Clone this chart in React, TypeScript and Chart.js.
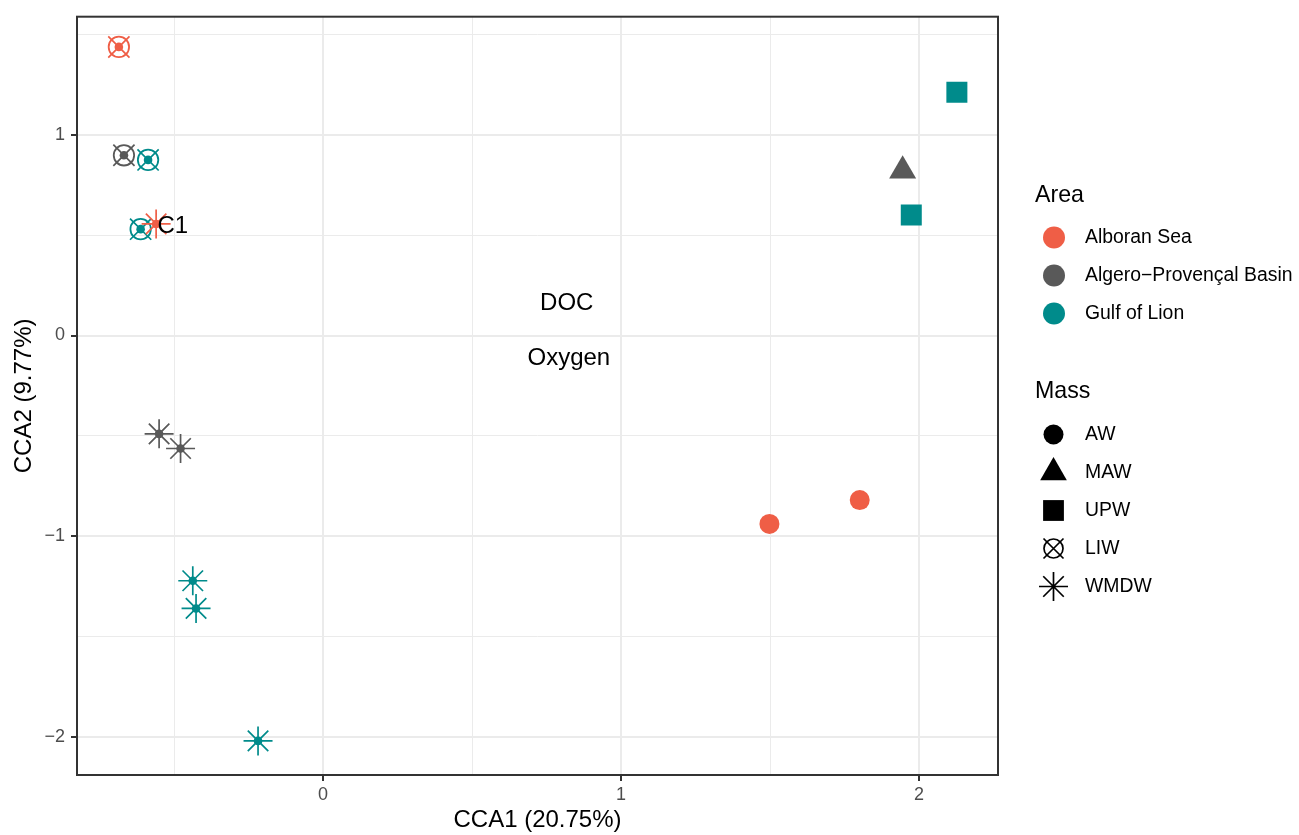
import React, { useEffect, useRef } from 'react';
import { Chart, registerables } from 'chart.js';

Chart.register(...registerables);

// ---------- data ----------
const AREA_NAMES = ['Alboran Sea', 'Algero\u2212Provençal Basin', 'Gulf of Lion'];
const AREA_COLORS = ['#EF5E46', '#595959', '#008B8B'];
const MASS_NAMES = ['AW', 'MAW', 'UPW', 'LIW', 'WMDW'];

const sampleArea = [
  'Alboran Sea', 'Algero\u2212Provençal Basin', 'Gulf of Lion', 'Gulf of Lion',
  'Alboran Sea', 'Algero\u2212Provençal Basin', 'Algero\u2212Provençal Basin',
  'Gulf of Lion', 'Gulf of Lion', 'Gulf of Lion',
  'Alboran Sea', 'Alboran Sea', 'Algero\u2212Provençal Basin', 'Gulf of Lion', 'Gulf of Lion',
];
const sampleMass = [
  'LIW', 'LIW', 'LIW', 'LIW',
  'WMDW', 'WMDW', 'WMDW', 'WMDW', 'WMDW', 'WMDW',
  'AW', 'AW', 'MAW', 'UPW', 'UPW',
];
const sampleCCA1 = [-0.685, -0.668, -0.587, -0.612, -0.56, -0.55, -0.478, -0.437, -0.426, -0.218, 1.498, 1.801, 1.945, 1.974, 2.127];
const sampleCCA2 = [1.438, 0.898, 0.875, 0.53, 0.556, -0.49, -0.563, -1.222, -1.36, -2.02, -0.939, -0.82, 0.821, 0.6, 1.212];

const envLabels = ['C1', 'DOC', 'Oxygen'];
const envCCA1 = [-0.504, 0.818, 0.825];
const envCCA2 = [0.545, 0.159, -0.116];

const xTickValues = [0, 1, 2];
const yTickValues = [-2, -1, 0, 1];
const xRange = [-0.8255, 2.265];
const yRange = [-2.19, 1.5886];

const FONT = '"Liberation Sans", Arial, Helvetica, sans-serif';

const fmt = (v: number) => (v < 0 ? '\u2212' + Math.abs(v) : String(v));
const isMajor = (v: number) => Math.abs(v - Math.round(v)) < 1e-9;

function colorOf(i: number) {
  return AREA_COLORS[AREA_NAMES.indexOf(sampleArea[i])];
}
function idxOf(pred: (m: string) => boolean) {
  return sampleMass.map((m, i) => (pred(m) ? i : -1)).filter((i) => i >= 0);
}
function pts(ix: number[]) {
  return ix.map((i) => ({ x: sampleCCA1[i], y: sampleCCA2[i] }));
}

function buildDatasets() {
  const dots = idxOf((m) => m === 'LIW' || m === 'WMDW');
  const liw = idxOf((m) => m === 'LIW');
  const wmdw = idxOf((m) => m === 'WMDW');
  const aw = idxOf((m) => m === 'AW');
  const maw = idxOf((m) => m === 'MAW');
  const upw = idxOf((m) => m === 'UPW');
  const base = { showLine: false, pointHoverRadius: 0 };
  return [
    { ...base, label: 'dot', data: pts(dots), pointStyle: 'circle', pointRadius: 4.3,
      pointBackgroundColor: dots.map(colorOf), pointBorderWidth: 0 },
    { ...base, label: 'WMDW', data: pts(wmdw), pointStyle: 'star', pointRadius: 14.5,
      pointBackgroundColor: 'transparent', pointBorderColor: wmdw.map(colorOf), pointBorderWidth: 1.7 },
    { ...base, label: 'LIW ring', data: pts(liw), pointStyle: 'circle', pointRadius: 10.2,
      pointBackgroundColor: 'transparent', pointBorderColor: liw.map(colorOf), pointBorderWidth: 1.8 },
    { ...base, label: 'LIW', data: pts(liw), pointStyle: 'crossRot', pointRadius: 15,
      pointBackgroundColor: 'transparent', pointBorderColor: liw.map(colorOf), pointBorderWidth: 1.7 },
    { ...base, label: 'AW', data: pts(aw), pointStyle: 'circle', pointRadius: 10,
      pointBackgroundColor: aw.map(colorOf), pointBorderWidth: 0 },
    { ...base, label: 'MAW', data: pts(maw), pointStyle: 'triangle', pointRadius: 15.6,
      pointBackgroundColor: maw.map(colorOf), pointBorderWidth: 0 },
    { ...base, label: 'UPW', data: pts(upw), pointStyle: 'rect', pointRadius: 14.85,
      pointBackgroundColor: upw.map(colorOf), pointBorderWidth: 0 },
  ];
}

// ---------- legend marker drawing ----------
function drawMarker(ctx: CanvasRenderingContext2D, kind: string, x: number, y: number, color: string) {
  ctx.save();
  ctx.fillStyle = color;
  ctx.strokeStyle = color;
  ctx.lineWidth = 1.7;
  if (kind === 'circle') {
    ctx.beginPath(); ctx.arc(x, y, 11, 0, Math.PI * 2); ctx.fill();
  } else if (kind === 'AW') {
    ctx.beginPath(); ctx.arc(x, y, 10, 0, Math.PI * 2); ctx.fill();
  } else if (kind === 'MAW') {
    const r = 15.4;
    ctx.beginPath();
    ctx.moveTo(x, y - r);
    ctx.lineTo(x + r * Math.cos(Math.PI / 6), y + r / 2);
    ctx.lineTo(x - r * Math.cos(Math.PI / 6), y + r / 2);
    ctx.closePath(); ctx.fill();
  } else if (kind === 'UPW') {
    ctx.fillRect(x - 10.4, y - 10.4, 20.8, 20.8);
  } else if (kind === 'LIW') {
    ctx.beginPath(); ctx.arc(x, y, 9.5, 0, Math.PI * 2); ctx.stroke();
    const d = 10;
    ctx.beginPath();
    ctx.moveTo(x - d, y - d); ctx.lineTo(x + d, y + d);
    ctx.moveTo(x + d, y - d); ctx.lineTo(x - d, y + d);
    ctx.stroke();
  } else if (kind === 'WMDW') {
    const r = 14.5; const d = r * Math.SQRT1_2;
    ctx.beginPath();
    ctx.moveTo(x - r, y); ctx.lineTo(x + r, y);
    ctx.moveTo(x, y - r); ctx.lineTo(x, y + r);
    ctx.moveTo(x - d, y - d); ctx.lineTo(x + d, y + d);
    ctx.moveTo(x + d, y - d); ctx.lineTo(x - d, y + d);
    ctx.stroke();
  }
  ctx.restore();
}

const overlayPlugin = {
  id: 'overlay',
  afterDatasetsDraw(chart: any) {
    const { ctx, scales, chartArea: a } = chart;
    const xs = scales.x; const ys = scales.y;
    ctx.save();
    // environmental variable labels
    ctx.fillStyle = '#000000';
    ctx.font = `24px ${FONT}`;
    ctx.textAlign = 'center';
    ctx.textBaseline = 'middle';
    envLabels.forEach((l, i) => {
      ctx.fillText(l, xs.getPixelForValue(envCCA1[i]), ys.getPixelForValue(envCCA2[i]));
    });
    // panel border
    ctx.strokeStyle = '#333333';
    ctx.lineWidth = 2;
    ctx.strokeRect(a.left, a.top, a.right - a.left, a.bottom - a.top);

    // legends
    const titleX = 1035, markX = 1054, textX = 1085, step = 38;
    ctx.textAlign = 'left';
    ctx.fillStyle = '#000000';
    ctx.font = `23.2px ${FONT}`;
    ctx.fillText('Area', titleX, 196);
    ctx.fillText('Mass', titleX, 392);
    ctx.font = `19.4px ${FONT}`;
    AREA_NAMES.forEach((n, i) => {
      const y = 237.5 + i * step;
      drawMarker(ctx, 'circle', markX, y, AREA_COLORS[i]);
      ctx.fillStyle = '#000000';
      ctx.fillText(n, textX, y);
    });
    MASS_NAMES.forEach((n, i) => {
      const y = 434.5 + i * step;
      drawMarker(ctx, n, markX - 0.5, y, '#000000');
      ctx.fillStyle = '#000000';
      ctx.fillText(n, textX, y);
    });
    ctx.restore();
  },
};

const tickFont = (c: any) => ({ family: FONT, size: c.tick && isMajor(c.tick.value) ? 18 : 1 });

export default function App() {
  const ref = useRef<HTMLCanvasElement | null>(null);
  useEffect(() => {
    document.body.style.margin = '0';
    const canvas = ref.current!;
    const chart = new Chart(canvas, {
      type: 'scatter',
      data: { datasets: buildDatasets() as any },
      options: {
        animation: false,
        responsive: false,
        devicePixelRatio: 1,
        events: [],
        layout: { padding: { left: 0, top: 14, right: 301, bottom: 0 } },
        plugins: { legend: { display: false }, tooltip: { enabled: false } },
        scales: {
          x: {
            type: 'linear',
            min: xRange[0],
            max: xRange[1],
            afterFit: (s: any) => { s.height = 60; },
            border: { display: false },
            grid: {
              color: '#EBEBEB',
              lineWidth: (c: any) => (isMajor(c.tick.value) ? 2 : 1),
              drawTicks: true,
              tickLength: 6,
              tickWidth: 2,
              tickColor: (c: any) => (isMajor(c.tick.value) ? '#333333' : 'rgba(0,0,0,0)'),
            },
            ticks: {
              stepSize: 0.5,
              includeBounds: false,
              autoSkip: false,
              maxRotation: 0,
              padding: 3,
              color: '#4D4D4D',
              font: tickFont,
              callback: (v: any) => (xTickValues.some((t) => Math.abs(t - v) < 1e-9) ? fmt(Number(v)) : ''),
            },
            title: {
              display: true,
              text: 'CCA1 (20.75%)',
              color: '#000000',
              font: { family: FONT, size: 24 },
              padding: { top: 0, bottom: 0 },
            },
          },
          y: {
            type: 'linear',
            min: yRange[0],
            max: yRange[1],
            afterFit: (s: any) => { s.width = 77; },
            border: { display: false },
            grid: {
              color: '#EBEBEB',
              lineWidth: (c: any) => (isMajor(c.tick.value) ? 2 : 1),
              drawTicks: true,
              tickLength: 6,
              tickWidth: 2,
              tickColor: (c: any) => (isMajor(c.tick.value) ? '#333333' : 'rgba(0,0,0,0)'),
            },
            ticks: {
              stepSize: 0.5,
              includeBounds: false,
              autoSkip: false,
              padding: 6,
              color: '#4D4D4D',
              font: tickFont,
              callback: (v: any) => (yTickValues.some((t) => Math.abs(t - v) < 1e-9) ? fmt(Number(v)) : ''),
            },
            title: {
              display: true,
              text: 'CCA2 (9.77%)',
              color: '#000000',
              font: { family: FONT, size: 24 },
              padding: { top: 9.6, bottom: 0 },
            },
          },
        },
      },
      plugins: [overlayPlugin],
    });
    return () => chart.destroy();
  }, []);
  return (
    <div style={{ position: 'relative', width: 1299, height: 835 }}>
      <canvas ref={ref} width={1299} height={835} style={{ display: 'block', width: 1299, height: 835 }} />
    </div>
  );
}
